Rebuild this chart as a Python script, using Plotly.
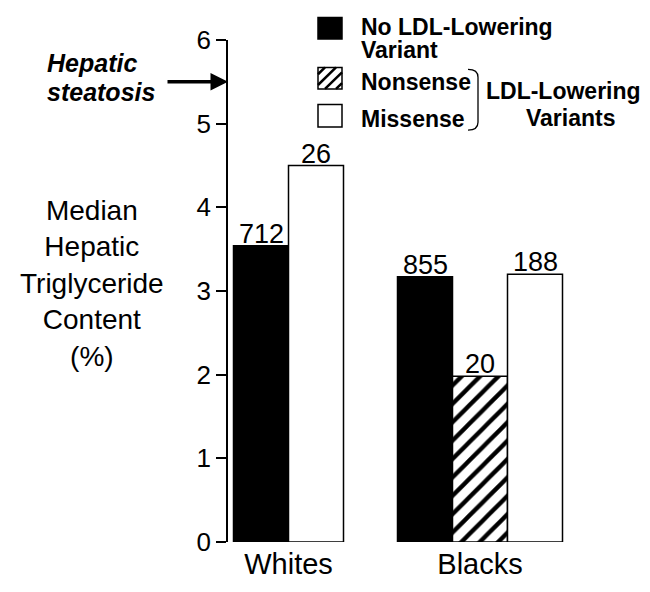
import plotly.graph_objects as go

# ---------------- data ----------------
categories = ["Whites", "Blacks"]
no_variant = [3.54, 3.17]
nonsense = [None, 1.98]
missense = [4.50, 3.20]
no_variant_n = ["712", "855"]
nonsense_n = [None, "20"]
missense_n = ["26", "188"]
y_ticks = [0, 1, 2, 3, 4, 5, 6]
steatosis_threshold = 5.5

# ---------------- layout geometry ----------------
W, H = 650, 592
L, R, T, B = 228, 30, 40, 39
PW, PH = W - L - R, H - T - B
GROUP_PX = 191.5
x0 = -(288.5 - L) / GROUP_PX
x_range = [x0, x0 + PW / GROUP_PX]
bw = 55 / GROUP_PX

FONT = "Liberation Sans, Arial, sans-serif"


def px(x):
    return (x - L) / PW


def py(y):
    return (H - B - y) / PH


# offsets per trace per category (layout)
off_no = [-bw, -1.5 * bw]
off_ns = [0, -0.5 * bw]
off_ms = [0, 0.5 * bw]

fig = go.Figure()
fig.add_trace(go.Bar(
    x=categories, y=no_variant, width=bw, offset=off_no,
    marker=dict(color="black", line=dict(color="black", width=1.5)),
    showlegend=False,
))
fig.add_trace(go.Bar(
    x=categories, y=nonsense, width=bw, offset=off_ns,
    marker=dict(color="white", line=dict(color="black", width=1.5),
                pattern=dict(shape="/", fgcolor="black", bgcolor="white",
                             fgopacity=1, size=13, solidity=0.33,
                             fillmode="replace")),
    showlegend=False,
))
fig.add_trace(go.Bar(
    x=categories, y=missense, width=bw, offset=off_ms,
    marker=dict(color="white", line=dict(color="black", width=1.5)),
    showlegend=False,
))

annotations = []
# count labels on bars
for vals, labels, offs in [(no_variant, no_variant_n, off_no),
                           (nonsense, nonsense_n, off_ns),
                           (missense, missense_n, off_ms)]:
    for i, (v, lab) in enumerate(zip(vals, labels)):
        if v is None:
            continue
        annotations.append(dict(
            x=i + offs[i] + bw / 2, y=v, xref="x", yref="y",
            text=lab, showarrow=False, yanchor="bottom", yshift=-5,
            font=dict(family=FONT, size=27, color="black"),
        ))

# y-axis title (horizontal, multi-line)
annotations.append(dict(
    x=px(92), y=py(289), xref="paper", yref="paper",
    text="Median<br>Hepatic<br>Triglyceride<br>Content<br>(%)",
    showarrow=False, align="center", xanchor="center", yanchor="middle",
    font=dict(family=FONT, size=28, color="black"),
))

# Hepatic steatosis label + arrow
annotations.append(dict(
    x=px(45), y=py(72 - 8.8), xref="paper", yref="paper",
    text="<b><i>Hepatic</i></b>", showarrow=False, xanchor="left", yanchor="middle",
    font=dict(family=FONT, size=25, color="black"),
))
annotations.append(dict(
    x=px(45), y=py(102 - 8.8), xref="paper", yref="paper",
    text="<b><i>steatosis</i></b>", showarrow=False, xanchor="left", yanchor="middle",
    font=dict(family=FONT, size=25, color="black"),
))
annotations.append(dict(
    x=0, y=steatosis_threshold, xref="paper", yref="y",
    ax=-62, ay=0, axref="pixel", ayref="pixel",
    text="", showarrow=True, arrowhead=2, arrowsize=1, arrowwidth=3.5,
    arrowcolor="black", standoff=0,
))

# legend texts
LF = dict(family=FONT, size=23, color="black")
for txt, xl, yb in [("No LDL-Lowering", 359, 35), ("Variant", 359, 58),
                    ("Nonsense", 359, 91), ("Missense", 359, 129)]:
    annotations.append(dict(
        x=px(xl), y=py(yb - 8.2), xref="paper", yref="paper",
        text="<b>%s</b>" % txt, showarrow=False, xanchor="left", yanchor="middle",
        font=LF,
    ))
for txt, xc, yb in [("LDL-Lowering", 563.5, 100), ("Variants", 570.5, 128)]:
    annotations.append(dict(
        x=px(xc), y=py(yb - 8.2), xref="paper", yref="paper",
        text="<b>%s</b>" % txt, showarrow=False, xanchor="center", yanchor="middle",
        font=LF,
    ))

shapes = []


def rect(xa, ya, xb, yb, fill):
    shapes.append(dict(type="rect", xref="paper", yref="paper",
                       x0=px(xa), x1=px(xb), y0=py(yb), y1=py(ya),
                       fillcolor=fill, line=dict(color="black", width=1.5)))


rect(318, 17, 342, 39, "black")
rect(318, 68, 342, 90, "white")
rect(318, 106, 342, 129, "white")

# hatch lines in the nonsense legend square
a, b, c, d = 318, 342, 68, 90
segs = []
k = a + c + 7
while k < b + d - 2:
    xs, xe = max(a, k - d), min(b, k - c)
    if xe > xs:
        segs.append("M %.5f %.5f L %.5f %.5f" % (px(xs), py(k - xs), px(xe), py(k - xe)))
    k += 11
shapes.append(dict(type="path", xref="paper", yref="paper", path=" ".join(segs),
                   line=dict(color="black", width=2.5)))

# bracket
bx0, bx1 = 468, 478
shapes.append(dict(
    type="path", xref="paper", yref="paper",
    path="M %f %f Q %f %f %f %f L %f %f Q %f %f %f %f" % (
        px(bx0), py(70), px(bx1), py(70), px(bx1), py(78),
        px(bx1), py(124), px(bx1), py(132), px(bx0), py(132)),
    line=dict(color="black", width=1.3),
))

fig.update_layout(
    width=W, height=H, autosize=False,
    margin=dict(l=L, r=R, t=T, b=B, pad=0),
    paper_bgcolor="white", plot_bgcolor="white",
    barmode="overlay",
    showlegend=False,
    annotations=annotations,
    shapes=shapes,
    font=dict(family=FONT, color="black"),
    xaxis=dict(
        type="category", range=x_range, showline=False, showgrid=False,
        zeroline=False, ticks="", tickfont=dict(family=FONT, size=29, color="black"),
        ticklabelstandoff=2,
    ),
    yaxis=dict(
        range=[0, 6], tickvals=y_ticks, ticktext=[str(t) for t in y_ticks],
        showline=True, linecolor="black", linewidth=1.5,
        ticks="outside", ticklen=10, tickwidth=1.5, tickcolor="black",
        showgrid=False, zeroline=False,
        tickfont=dict(family=FONT, size=26, color="black"),
    ),
)

fig.write_html(
    "out.html",
    config={"displayModeBar": False},
    post_script="document.body.style.margin='0';document.body.style.overflow='hidden';",
)
